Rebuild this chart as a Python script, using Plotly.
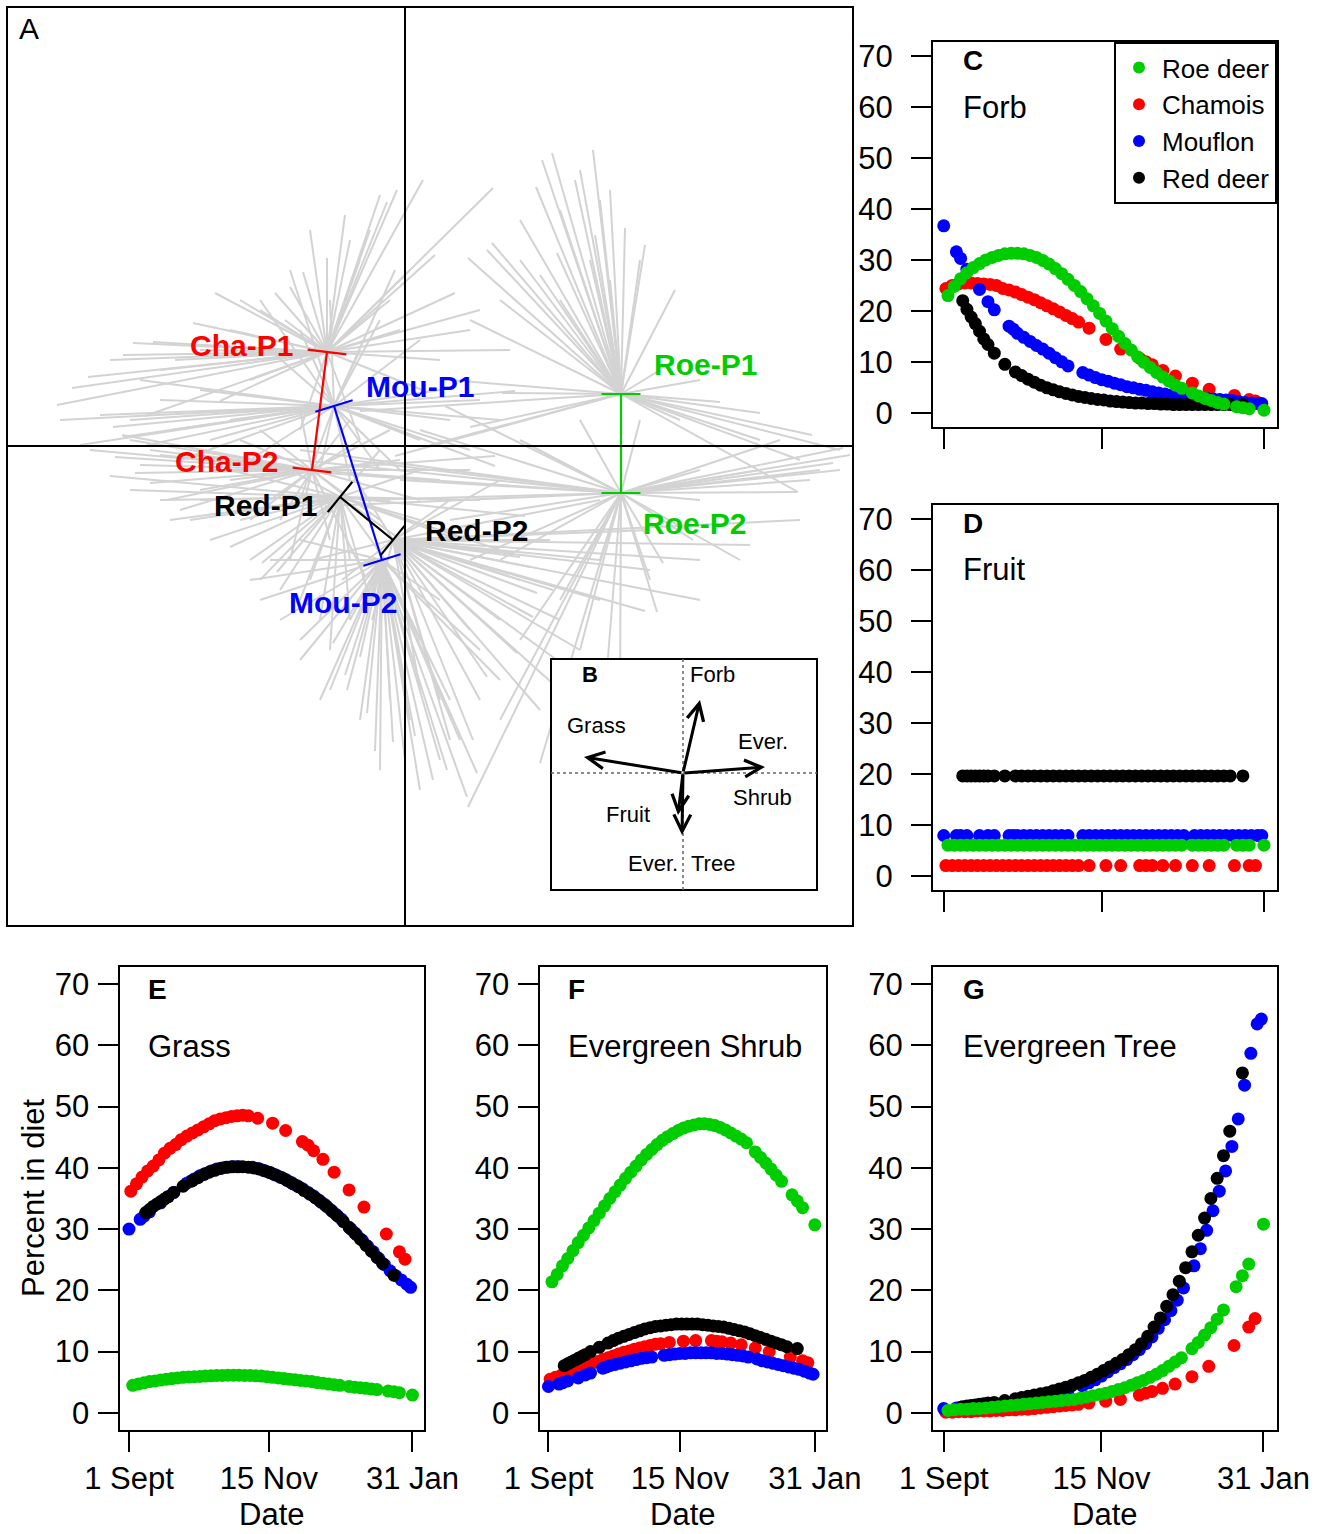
import plotly.graph_objects as go

# ======================= DATA =======================
# ---- Panel A: group centroids (PCA scores, two periods per species)
cent_names = ["Cha-P1", "Cha-P2", "Mou-P1", "Mou-P2", "Red-P1", "Red-P2", "Roe-P1", "Roe-P2"]
cent_x = [-0.78, -0.93, -0.71, -0.23, -0.65, -0.12, 2.16, 2.16]
cent_y = [0.94, -0.24, 0.40, -1.14, -0.51, -0.94, 0.52, -0.47]

# ---- Panel A: individual sample scores per group
cha1_x = [0.88, 0.18, -0.08, -0.18, -0.35, -0.60, -0.78, -1.02, -1.15, -1.30, -1.90, -2.12, 0.50, 0.65, 1.05, 0.35,
          -2.82, -3.17, -3.33, -3.48, -2.72, -2.52, -2.30, -1.75, -1.45, -0.45, 0.05, -1.55, -0.05, -1.05, -0.45,
          -0.25, -0.55, 0.30, -0.95, -1.65, -2.95, -2.45, -2.05, 0.75, -0.15, -1.20, -2.60, -1.85, 0.20]
cha1_y = [2.58, 2.66, 2.56, 2.44, 2.16, 2.31, 1.88, 1.74, 1.59, 1.53, 1.53, 1.23, 1.53, 1.16, 0.96, 0.86,
          0.91, 0.69, 0.58, 0.41, 1.03, 1.04, 0.86, 1.16, 1.36, 1.86, 1.76, 0.66, 1.16, 0.16, 0.06,
          2.51, 2.06, 1.91, 2.16, 1.46, 0.86, 0.76, 0.96, 1.36, 1.46, 1.26, 0.30, 0.45, 0.55]
mou1_x = [-2.92, -2.82, -2.58, -3.05, -2.45, -2.05, -1.75, -1.15, -1.45, -0.75, -0.25, 0.15, 0.75, 0.45, 0.15,
          -0.25, -0.55, -1.05, -1.55, -2.25, -3.25, -2.65, -0.10, 0.65, 0.95,
          -3.45, -2.75, -1.95, -1.35, -1.05, -0.45, 0.35, -0.05, -0.85, -2.35, 1.10, 0.90]
mou1_y = [0.19, 0.09, 0.01, 0.31, 0.46, 0.56, 0.26, 1.76, 1.46, 1.46, 1.26, 1.06, 0.46, 0.26, 0.06,
          -0.24, -0.34, -0.54, -0.14, -0.14, 0.01, 0.66, 1.76, -0.04, 0.26,
          0.26, 0.26, 0.06, 0.96, 1.16, 0.96, 0.56, -0.24, -0.24, 0.16, 0.55, -0.20]
cha2_x = [-2.90, -2.70, -2.55, -2.38, -2.83, -2.55, -2.05, -1.75, -2.25, -1.55, -1.35, -0.45, -0.05, 0.35, -0.25,
          -0.75, -1.15, -0.55, -1.05, -1.45, 0.15, 0.65,
          -3.15, -2.65, -2.05, -1.95, -2.45, -1.25, -0.55, -0.15, -1.65, -2.75, 0.90, -0.40]
cha2_y = [-0.11, -0.27, -0.37, -0.54, 0.11, -0.04, -0.09, -0.34, -0.64, -0.74, -0.54, 0.06, -0.14, -0.34, -0.74,
          -0.94, -1.14, 0.26, 0.36, 0.16, -0.54, -0.24,
          -0.04, -0.19, -0.44, -0.24, -0.09, -0.74, -0.54, 0.16, 0.06, 0.06, -0.10, -1.30]
red1_x = [-1.75, -1.43, -1.28, -2.45, -2.15, -1.95, -1.05, -0.85, -1.25, -1.55, -0.35, -0.05, 0.25, 0.55, 0.75,
          0.15, -0.25, -1.15, -1.75, -0.75, -0.55,
          -2.75, -2.35, -2.05, -1.65, -1.45, -0.95, -0.55, 0.15, 0.95, -0.15, 1.20, -2.95]
red1_y = [-1.01, -1.17, -1.26, -0.54, -0.74, -0.94, -1.54, -1.74, -1.44, -1.14, -1.54, -1.34, -1.14, -0.94, -0.54,
          -0.24, -0.04, -0.24, -0.24, -2.04, -1.74,
          -0.44, -0.74, -0.54, -0.74, -1.34, -1.34, -1.14, -0.74, -1.04, -0.54, -0.70, -0.30]
red2_x = [1.48, 1.32, 1.25, 1.15, 1.08, 1.28, 1.12, 0.82, 0.68, 1.55, 1.35, 1.95, 2.45, 2.95, 3.45, 3.95, 0.65,
          0.35, 0.15, -0.93, -0.63, -0.33, 0.45, 0.95, -0.55,
          1.55, 1.75, 1.95, 1.15, 0.95, 0.75, 0.45, 2.45, 2.95, 1.45, 1.95, 2.40, 1.60]
red2_y = [-1.44, -1.47, -1.21, -1.11, -1.07, -1.71, -2.07, -2.31, -2.94, -2.44, -2.64, -1.14, -1.24, -1.14, -0.99,
          -0.74, -1.84, -2.54, -2.44, -1.14, -1.34, -1.74, -0.54, -0.34, -0.24,
          -1.74, -2.04, -1.54, -1.34, -1.74, -2.54, -2.94, -0.84, -1.54, -0.94, -0.54, -1.65, -2.20]
mou2_x = [-0.60, -0.45, -0.12, -0.38, -0.72, -0.58, 0.28, 0.62, 0.72, 0.42, 0.15, 0.00, -0.25, -1.05, -1.25,
          -1.45, -0.85, 0.45, 0.95, 0.15, -1.55, -1.05, 0.35,
          -0.45, -0.15, 0.05, 0.35, 0.55, -0.75, -1.05, -0.55, 0.75, -1.35, -0.30, 0.10]
mou2_y = [-2.29, -2.11, -2.96, -2.67, -1.97, -2.44, -3.34, -3.51, -3.27, -3.24, -3.44, -3.14, -3.24, -1.94, -1.74,
          -1.54, -2.54, -2.54, -2.34, -1.94, -1.34, -0.94, -1.54,
          -2.74, -2.54, -2.74, -3.14, -2.94, -2.44, -2.14, -1.74, -2.04, -1.14, -3.05, -2.90]
roe1_x = [1.37, 1.47, 1.88, 1.31, 2.20, 2.40, 2.70, 1.90, 1.52, 0.87, 0.63, 0.82, 1.35, 0.65, 0.97, 4.07, 4.35,
          3.93, 3.15, 3.55, 1.70, 1.95, 1.55, 1.15, 2.55, 2.95, 0.65, 0.25, 1.55, 2.05,
          1.75, 2.05, 2.35, 1.15, 0.95, 0.45, 3.55, 3.95, 2.75, 1.85, -0.45, -0.10]
roe1_y = [2.86, 2.93, 2.96, 2.59, 2.18, 2.01, 1.56, 2.11, 1.93, 2.03, 1.88, 1.96, 1.71, 1.26, 0.53, 0.11, -0.04,
          -0.46, 0.44, 0.33, 2.66, 2.46, 2.36, 2.26, 0.76, 0.66, 0.19, 0.01, 1.46, 1.66,
          2.76, 2.56, 1.86, 1.86, 1.46, 0.66, 0.06, -0.14, 0.26, 1.86, 0.35, -0.10]
roe2_x = [3.92, 4.28, 4.38, 4.45, 4.15, 3.75, 2.95, 0.63, 1.35, 2.02, 2.52, 2.58, 2.88, 1.55, 1.15, 0.95, 0.45,
          -0.05, -0.55, -1.05, -1.55, 0.15, 1.15, 1.75, 2.35, 2.95, 3.35, 1.95,
          4.05, 3.55, 4.35, 1.75, 2.15, 0.95, 0.65, -0.45, -1.25, 2.45, -0.80, 0.40]
roe2_y = [-0.46, -0.17, -0.02, -0.09, -0.24, 0.06, -0.24, -3.61, -3.17, -2.24, -1.66, -1.17, -0.94, -1.54, -1.94,
          -1.14, -0.74, -0.34, -0.14, -0.04, -0.09, 0.16, 0.06, 0.26, 0.26, -0.54, -1.14, -1.14,
          -0.34, -0.24, -0.24, -2.04, -2.54, -2.74, -1.14, -0.54, -0.24, -1.34, -0.60, 0.40]

# ---- Panel B: loadings of diet categories
load_names = ["Forb", "Grass", "Ever. Shrub", "Fruit", "Ever. Tree"]
load_x = [0.17, -0.99, 0.82, -0.05, -0.01]
load_y = [0.73, 0.16, 0.06, -0.42, -0.62]

# ---- Panels C-G: percent in diet by day since 1 Sept
species = ["Roe deer", "Chamois", "Mouflon", "Red deer"]
tick_days = [0, 75, 152]
tick_labels = ["1 Sept", "15 Nov", "31 Jan"]
y_ticks = [0, 10, 20, 30, 40, 50, 60, 70]

roe_days = [2, 5, 8, 11, 14, 17, 20, 23, 26, 29, 32, 35, 38, 41, 44, 47, 50, 53, 56, 59, 62, 65, 68, 71, 74, 77,
            80, 83, 86, 89, 92, 95, 98, 101, 104, 107, 110, 113, 118, 121, 124, 127, 130, 133, 139, 142, 145, 152]
cha_days = [1, 4, 7, 10, 13, 16, 19, 22, 25, 28, 31, 34, 37, 40, 43, 46, 49, 52, 55, 58, 61, 64,
            69, 77, 84, 93, 96, 99, 104, 110, 118, 126, 138, 145, 148]
mou_days = [0, 6, 8, 11, 17, 21, 24, 31, 33, 35, 38, 41, 44, 47, 50, 53, 56, 59, 66, 69, 72, 75, 78, 81, 84, 87,
            90, 93, 96, 99, 102, 105, 108, 111, 114, 119, 122, 125, 128, 131, 134, 137, 140, 143, 146, 149, 151]
red_days = [9, 11, 13, 15, 17, 19, 21, 24, 29, 34, 37, 40, 43, 46, 49, 52, 55, 58, 61, 64, 67, 70, 73, 76, 79,
            82, 85, 88, 91, 94, 97, 100, 103, 106, 109, 112, 115, 118, 121, 124, 127, 130, 133, 136, 142]

roe_forb = [23.0, 24.8, 26.3, 27.5, 28.5, 29.3, 30.0, 30.5, 30.9, 31.2, 31.3, 31.3, 31.2, 30.9, 30.5, 29.9, 29.2,
            28.3, 27.3, 26.2, 25.0, 23.8, 22.4, 21.0, 19.5, 18.0, 16.5, 15.0, 13.6, 12.3, 11.0, 9.9, 8.9, 7.9, 7.0,
            6.2, 5.4, 4.8, 3.9, 3.3, 2.8, 2.4, 2.0, 1.7, 1.2, 1.0, 0.8, 0.5]
cha_forb = [24.4, 25.0, 25.3, 25.5, 25.5, 25.4, 25.3, 25.2, 25.0, 24.4, 24.1, 23.7, 23.2, 22.7, 22.2, 21.6, 21.0,
            20.4, 19.8, 19.1, 18.5, 17.8, 16.6, 14.4, 12.5, 10.7, 10.0, 9.4, 8.3, 7.2, 5.8, 4.6, 3.4, 2.6, 2.3]
mou_forb = [36.7, 31.6, 30.3, 28.2, 24.2, 21.8, 20.2, 17.0, 16.4, 15.6, 14.8, 14.0, 13.2, 12.5, 11.7, 10.8, 10.0,
            9.2, 7.9, 7.4, 6.9, 6.5, 6.2, 5.8, 5.5, 5.1, 4.9, 4.6, 4.4, 4.1, 3.9, 3.7, 3.5, 3.3, 3.1, 3.0, 2.9, 2.8,
            2.7, 2.6, 2.5, 2.4, 2.2, 2.0, 1.9, 1.8, 1.8]
red_forb = [22.0, 20.3, 18.8, 17.5, 16.0, 14.5, 13.4, 11.7, 9.5, 8.0, 7.3, 6.6, 6.0, 5.4, 4.9, 4.5, 4.1, 3.8, 3.5,
            3.2, 3.0, 2.8, 2.6, 2.5, 2.3, 2.2, 2.1, 2.0, 1.9, 1.9, 1.8, 1.8, 1.7, 1.7, 1.6, 1.6, 1.6, 1.6, 1.6, 1.6,
            1.6, 1.6, 1.6, 1.6, 1.6]

roe_fruit = [6.0, 6.0, 6.0, 6.0, 6.0, 6.0, 6.0, 6.0, 6.0, 6.0, 6.0, 6.0, 6.0, 6.0, 6.0, 6.0, 6.0, 6.0, 6.0, 6.0,
             6.0, 6.0, 6.0, 6.0, 6.0, 6.0, 6.0, 6.0, 6.0, 6.0, 6.0, 6.0, 6.0, 6.0, 6.0, 6.0, 6.0, 6.0, 6.0, 6.0,
             6.0, 6.0, 6.0, 6.0, 6.0, 6.0, 6.0, 6.0]
cha_fruit = [2.0, 2.0, 2.0, 2.0, 2.0, 2.0, 2.0, 2.0, 2.0, 2.0, 2.0, 2.0, 2.0, 2.0, 2.0, 2.0, 2.0, 2.0, 2.0, 2.0,
             2.0, 2.0, 2.0, 2.0, 2.0, 2.0, 2.0, 2.0, 2.0, 2.0, 2.0, 2.0, 2.0, 2.0, 2.0]
mou_fruit = [7.9, 7.9, 7.9, 7.9, 7.9, 7.9, 7.9, 7.9, 7.9, 7.9, 7.9, 7.9, 7.9, 7.9, 7.9, 7.9, 7.9, 7.9, 7.9, 7.9,
             7.9, 7.9, 7.9, 7.9, 7.9, 7.9, 7.9, 7.9, 7.9, 7.9, 7.9, 7.9, 7.9, 7.9, 7.9, 7.9, 7.9, 7.9, 7.9, 7.9,
             7.9, 7.9, 7.9, 7.9, 7.9, 7.9, 7.9]
red_fruit = [19.6, 19.6, 19.6, 19.6, 19.6, 19.6, 19.6, 19.6, 19.6, 19.6, 19.6, 19.6, 19.6, 19.6, 19.6, 19.6,
             19.6, 19.6, 19.6, 19.6, 19.6, 19.6, 19.6, 19.6, 19.6, 19.6, 19.6, 19.6, 19.6, 19.6, 19.6, 19.6,
             19.6, 19.6, 19.6, 19.6, 19.6, 19.6, 19.6, 19.6, 19.6, 19.6, 19.6, 19.6, 19.6]

roe_grass = [4.5, 4.7, 4.9, 5.1, 5.2, 5.35, 5.5, 5.6, 5.7, 5.8, 5.85, 5.9, 5.95, 6.0, 6.05, 6.1, 6.1, 6.15, 6.15,
             6.15, 6.1, 6.1, 6.05, 6.0, 5.9, 5.8, 5.7, 5.6, 5.5, 5.4, 5.3, 5.2, 5.1, 4.95, 4.85, 4.7, 4.6, 4.5,
             4.3, 4.2, 4.1, 4.0, 3.9, 3.8, 3.55, 3.45, 3.3, 2.9]
cha_grass = [36.2, 37.4, 38.5, 39.5, 40.3, 41.3, 42.4, 43.2, 43.8, 44.6, 45.2, 45.7, 46.2, 46.7, 47.2, 47.7, 48.0,
             48.2, 48.4, 48.5, 48.6, 48.5, 48.1, 47.3, 46.1, 44.3, 43.7, 42.8, 41.4, 39.3, 36.4, 33.6, 29.2, 26.3,
             25.1]
mou_grass = [30.0, 31.6, 32.1, 32.8, 34.3, 35.3, 36.0, 37.5, 37.8, 38.2, 38.7, 39.1, 39.5, 39.8, 40.0, 40.1, 40.2,
             40.2, 40.1, 39.9, 39.6, 39.3, 38.9, 38.5, 38.1, 37.6, 37.1, 36.6, 36.0, 35.4, 34.7, 34.0, 33.2, 32.4,
             31.6, 30.0, 29.1, 28.2, 27.2, 26.3, 25.2, 24.2, 23.2, 22.4, 21.7, 21.0, 20.5]
red_grass = [32.7, 33.2, 33.7, 34.1, 34.5, 34.9, 35.3, 36.0, 37.0, 37.9, 38.4, 38.9, 39.3, 39.6, 39.9, 40.1, 40.2,
             40.2, 40.2, 40.1, 40.0, 39.8, 39.5, 39.2, 38.8, 38.4, 37.9, 37.4, 36.9, 36.3, 35.7, 35.1, 34.4, 33.7,
             32.9, 32.1, 31.2, 30.3, 29.4, 28.4, 27.4, 26.4, 25.4, 24.4, 22.5]

roe_shrub = [21.4, 22.6, 24.0, 25.2, 26.5, 27.8, 29.0, 30.2, 31.4, 32.6, 33.8, 35.0, 36.1, 37.2, 38.3, 39.3, 40.3,
             41.3, 42.2, 43.0, 43.8, 44.5, 45.1, 45.6, 46.1, 46.5, 46.8, 47.0, 47.2, 47.2, 47.1, 46.9, 46.6, 46.2,
             45.7, 45.2, 44.7, 44.1, 42.6, 41.7, 40.8, 39.8, 38.8, 37.8, 35.6, 34.6, 33.5, 30.7]
cha_shrub = [5.5, 5.8, 6.1, 6.4, 6.8, 7.1, 7.4, 7.8, 8.1, 8.4, 8.7, 9.0, 9.3, 9.6, 9.9, 10.1, 10.4, 10.6, 10.8,
             11.0, 11.2, 11.3, 11.5, 11.7, 11.8, 11.8, 11.7, 11.6, 11.4, 11.1, 10.6, 10.0, 9.1, 8.5, 8.2]
mou_shrub = [4.3, 4.7, 4.9, 5.2, 5.7, 6.2, 6.5, 7.3, 7.5, 7.7, 7.9, 8.1, 8.3, 8.5, 8.7, 8.9, 9.0, 9.1, 9.4, 9.5,
             9.6, 9.7, 9.7, 9.8, 9.8, 9.8, 9.8, 9.8, 9.7, 9.7, 9.6, 9.5, 9.4, 9.3, 9.1, 8.8, 8.5, 8.3, 8.1, 7.9,
             7.7, 7.5, 7.3, 7.1, 6.8, 6.5, 6.3]
red_shrub = [7.7, 8.0, 8.3, 8.6, 8.9, 9.2, 9.5, 10.0, 10.7, 11.4, 11.8, 12.2, 12.5, 12.8, 13.1, 13.4, 13.7, 13.9,
             14.1, 14.2, 14.3, 14.4, 14.5, 14.5, 14.5, 14.5, 14.5, 14.4, 14.3, 14.2, 14.1, 14.0, 13.8, 13.6, 13.4,
             13.2, 12.9, 12.6, 12.3, 12.0, 11.7, 11.4, 11.1, 10.8, 10.5]

roe_tree = [0.4, 0.5, 0.6, 0.6, 0.7, 0.7, 0.8, 0.9, 1.0, 1.1, 1.2, 1.3, 1.4, 1.5, 1.6, 1.7, 1.8, 1.9, 2.0, 2.1,
            2.2, 2.4, 2.6, 2.8, 3.0, 3.2, 3.5, 3.8, 4.1, 4.5, 4.9, 5.3, 5.8, 6.3, 6.9, 7.6, 8.3, 9.0, 10.5, 11.5,
            12.7, 13.9, 15.3, 16.8, 20.6, 22.4, 24.3, 30.8]
cha_tree = [0.1, 0.1, 0.2, 0.2, 0.2, 0.3, 0.3, 0.3, 0.4, 0.4, 0.5, 0.5, 0.6, 0.6, 0.7, 0.8, 0.9, 1.0, 1.1, 1.2,
            1.3, 1.4, 1.6, 1.9, 2.2, 2.9, 3.2, 3.5, 4.0, 4.7, 5.9, 7.6, 11.0, 14.0, 15.4]
mou_tree = [0.7, 0.8, 0.9, 1.0, 1.2, 1.3, 1.4, 1.7, 1.8, 1.9, 2.1, 2.3, 2.5, 2.7, 2.9, 3.1, 3.3, 3.6, 4.4, 4.9,
            5.4, 6.0, 6.7, 7.4, 8.0, 8.7, 9.5, 10.3, 11.3, 12.4, 13.8, 15.2, 16.7, 18.4, 20.4, 24.0, 26.8, 29.8,
            33.0, 36.2, 39.5, 43.5, 48.0, 53.5, 58.7, 63.5, 64.3]
red_tree = [1.0, 1.1, 1.2, 1.3, 1.4, 1.5, 1.6, 1.7, 2.0, 2.3, 2.5, 2.7, 2.9, 3.1, 3.3, 3.6, 3.9, 4.2, 4.5, 4.9,
            5.3, 5.8, 6.3, 6.9, 7.5, 8.1, 8.7, 9.5, 10.3, 11.3, 12.5, 14.0, 15.5, 17.4, 19.3, 21.5, 23.7, 26.3,
            29.0, 31.8, 35.0, 38.3, 42.0, 46.0, 55.5]

# ======================= STYLE / LAYOUT =======================
W, H = 1324, 1534
FONT = "Liberation Sans, Arial, sans-serif"
GREEN, RED, BLUE, BLACK = "#00CD00", "#FF0000", "#0000FF", "#000000"
GREY = "#D3D3D3"


def dx(px):
    return px / W


def dy(py):
    return 1 - py / H


fig = go.Figure()

# ---------------- Panel A: spider lines ----------------
groups = [
    (0, cha1_x, cha1_y), (2, mou1_x, mou1_y), (1, cha2_x, cha2_y), (4, red1_x, red1_y),
    (5, red2_x, red2_y), (3, mou2_x, mou2_y), (6, roe1_x, roe1_y), (7, roe2_x, roe2_y),
]
for gi, xs, ys in groups:
    lx, ly = [], []
    for ex, ey in zip(xs, ys):
        lx += [cent_x[gi], ex, None]
        ly += [cent_y[gi], ey, None]
    fig.add_trace(go.Scatter(x=lx, y=ly, mode="lines", line=dict(color=GREY, width=2),
                             xaxis="x", yaxis="y", showlegend=False, hoverinfo="skip"))

# species displacement segments with flat end bars
pairs = [(0, 1, RED), (2, 3, BLUE), (4, 5, BLACK), (6, 7, GREEN)]
HALF = 0.195
for a, b, col in pairs:
    x1, y1, x2, y2 = cent_x[a], cent_y[a], cent_x[b], cent_y[b]
    L = ((x2 - x1) ** 2 + (y2 - y1) ** 2) ** 0.5
    px_, py_ = -(y2 - y1) / L * HALF, (x2 - x1) / L * HALF
    lx = [x1, x2, None, x1 - px_, x1 + px_, None, x2 - px_, x2 + px_]
    ly = [y1, y2, None, y1 - py_, y1 + py_, None, y2 - py_, y2 + py_]
    fig.add_trace(go.Scatter(x=lx, y=ly, mode="lines", line=dict(color=col, width=2.2),
                             xaxis="x", yaxis="y", showlegend=False, hoverinfo="skip"))

# ---------------- Panels C-G: scatter ----------------
series = {
    "Chamois": (cha_days, RED, 2, [cha_forb, cha_fruit, cha_grass, cha_shrub, cha_tree]),
    "Mouflon": (mou_days, BLUE, 3, [mou_forb, mou_fruit, mou_grass, mou_shrub, mou_tree]),
    "Red deer": (red_days, BLACK, 4, [red_forb, red_fruit, red_grass, red_shrub, red_tree]),
    "Roe deer": (roe_days, GREEN, 1, [roe_forb, roe_fruit, roe_grass, roe_shrub, roe_tree]),
}
panel_axes = ["3", "4", "5", "6", "7"]
for pi, ax in enumerate(panel_axes):
    for name, (days, col, rank, vals) in series.items():
        fig.add_trace(go.Scatter(
            x=days, y=vals[pi], mode="markers", name=name,
            marker=dict(color=col, size=13, line=dict(width=0)),
            xaxis="x" + ax, yaxis="y" + ax, showlegend=(pi == 0), legendrank=rank, hoverinfo="skip"))

# ---------------- Axes ----------------
axis_line = dict(showline=True, mirror=True, linecolor="black", linewidth=2, showgrid=False, zeroline=False)

layout = dict(
    width=W, height=H, autosize=False, margin=dict(l=0, r=0, t=0, b=0, pad=0, autoexpand=False),
    paper_bgcolor="white", plot_bgcolor="white",
    font=dict(family=FONT, color="black"),
    showlegend=True,
    legend=dict(x=dx(1277), xanchor="right", y=dy(42), yanchor="top", bgcolor="white",
                bordercolor="black", borderwidth=2, font=dict(size=26, family=FONT),
                itemsizing="constant", tracegroupgap=0, itemwidth=36),
)

# Panel A axes
layout["xaxis"] = dict(domain=[dx(8), dx(852)], range=[-3.97, 4.47], anchor="y", showticklabels=False,
                       ticks="", layer="above traces", **axis_line)
layout["yaxis"] = dict(domain=[dy(925), dy(8)], range=[-4.79, 4.38], anchor="x", showticklabels=False,
                       ticks="", layer="above traces", **axis_line)
# Panel B axes (inset)
layout["xaxis2"] = dict(domain=[dx(551), dx(817)], range=[-1.32, 1.34], anchor="y2", visible=False)
layout["yaxis2"] = dict(domain=[dy(890), dy(659)], range=[-1.17, 1.14], anchor="x2", visible=False)

boxes = {
    "3": (933, 1277, 42, 427, 12, False),
    "4": (933, 1277, 505, 890, 12, False),
    "5": (119.5, 424, 967, 1430, 2, True),
    "6": (539.5, 825.7, 967, 1430, 2, True),
    "7": (933, 1276.5, 967, 1430, 2, True),
}
for ax, (x0, x1, y0, y1, stand, lab) in boxes.items():
    layout["xaxis" + ax] = dict(domain=[dx(x0), dx(x1)], range=[-5.1, 158.2], anchor="y" + ax,
                                tickvals=tick_days, ticktext=tick_labels, showticklabels=lab,
                                ticks="outside", ticklen=20, tickwidth=2, tickcolor="black",
                                tickfont=dict(size=31), **axis_line)
    layout["yaxis" + ax] = dict(domain=[dy(y1), dy(y0)], range=[-2.8, 72.8], anchor="x" + ax,
                                tickvals=y_ticks, ticks="outside", ticklen=20, tickwidth=2, tickcolor="black",
                                tickfont=dict(size=31), ticklabelstandoff=stand, **axis_line)

fig.update_layout(**layout)

# ---------------- Shapes ----------------
shapes = [
    # zero lines of panel A
    dict(type="line", xref="x", yref="y domain", x0=0, x1=0, y0=0, y1=1, line=dict(color="black", width=2)),
    dict(type="line", xref="x domain", yref="y", x0=0, x1=1, y0=0, y1=0, line=dict(color="black", width=2)),
    # inset B frame
    dict(type="rect", xref="x2 domain", yref="y2 domain", x0=0, x1=1, y0=0, y1=1,
         fillcolor="white", line=dict(color="black", width=2)),
    dict(type="line", xref="x2", yref="y2 domain", x0=0, x1=0, y0=0, y1=1,
         line=dict(color="#666666", width=1.5, dash="dot")),
    dict(type="line", xref="x2 domain", yref="y2", x0=0, x1=1, y0=0, y1=0,
         line=dict(color="#666666", width=1.5, dash="dot")),
]
fig.update_layout(shapes=shapes)

# ---------------- Annotations ----------------
ann = []
# Panel A labels
lab_pos = {
    "Cha-P1": (-1.64, 1.01, RED), "Mou-P1": (0.15, 0.60, BLUE), "Cha-P2": (-1.79, -0.15, RED),
    "Red-P1": (-1.40, -0.59, BLACK), "Red-P2": (0.71, -0.84, BLACK), "Mou-P2": (-0.62, -1.56, BLUE),
    "Roe-P1": (3.00, 0.82, GREEN), "Roe-P2": (2.89, -0.77, GREEN),
}
for t, (x, y, c) in lab_pos.items():
    ann.append(dict(x=x, y=y, xref="x", yref="y", text="<b>%s</b>" % t, showarrow=False,
                    font=dict(size=30, color=c), xanchor="center", yanchor="middle"))
ann.append(dict(x=dx(17), y=dy(28), xref="paper", yref="paper", text="A", showarrow=False,
                font=dict(size=30), xanchor="left", yanchor="middle"))

# Panel B arrows (loadings)
for lx_, ly_ in zip(load_x, load_y):
    ann.append(dict(x=lx_, y=ly_, ax=0, ay=0, xref="x2", yref="y2", axref="x2", ayref="y2", text="",
                    showarrow=True, arrowhead=5, arrowsize=1.1, arrowwidth=3, arrowcolor="black", standoff=0))
b_labels = [("Forb", 0.29, 0.99), ("Grass", -0.87, 0.48), ("Ever.", 0.80, 0.32), ("Shrub", 0.79, -0.24),
            ("Fruit", -0.55, -0.41), ("Ever.", -0.30, -0.90), ("Tree", 0.30, -0.90)]
for t, x, y in b_labels:
    ann.append(dict(x=x, y=y, xref="x2", yref="y2", text=t, showarrow=False, font=dict(size=22),
                    xanchor="center", yanchor="middle"))
ann.append(dict(x=-0.93, y=0.99, xref="x2", yref="y2", text="<b>B</b>", showarrow=False, font=dict(size=22),
                xanchor="center", yanchor="middle"))

# Panel letters and names
panel_text = [
    ("C", "Forb", 961, 60, 107), ("D", "Fruit", 961, 523, 569), ("E", "Grass", 146, 989, 1046),
    ("F", "Evergreen Shrub", 565.5, 989, 1046), ("G", "Evergreen Tree", 960.5, 989, 1046),
]
for letter, name, xl, yl, yn in panel_text:
    ann.append(dict(x=dx(xl), y=dy(yl), xref="paper", yref="paper", text="<b>%s</b>" % letter,
                    showarrow=False, font=dict(size=28), xanchor="left", yanchor="middle"))
    ann.append(dict(x=dx(xl), y=dy(yn), xref="paper", yref="paper", text=name,
                    showarrow=False, font=dict(size=31), xanchor="left", yanchor="middle"))

for xc in [271.7, 682.6, 1104.7]:
    ann.append(dict(x=dx(xc), y=dy(1514), xref="paper", yref="paper", text="Date", showarrow=False,
                    font=dict(size=31), xanchor="center", yanchor="middle", borderpad=0))
ann.append(dict(x=dx(33), y=dy(1198), xref="paper", yref="paper", text="Percent in diet", showarrow=False,
                font=dict(size=31), textangle=-90, xanchor="center", yanchor="middle"))

fig.update_layout(annotations=ann)

fig.write_html("out.html")
